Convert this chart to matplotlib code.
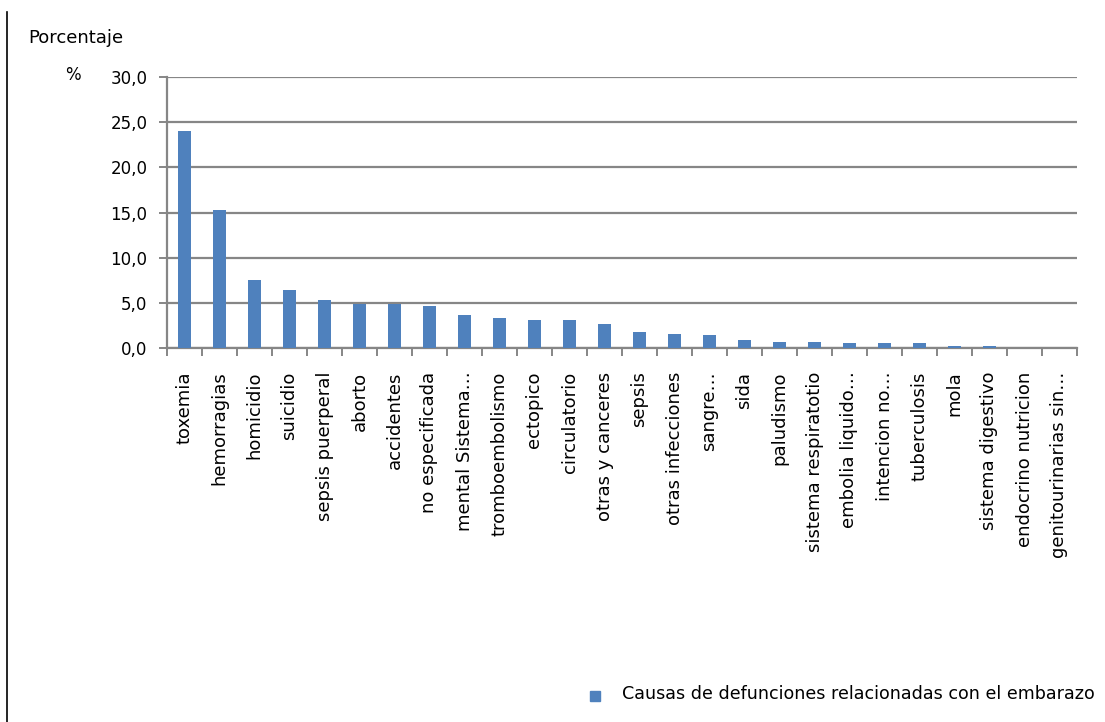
import matplotlib
matplotlib.use("Agg")
import matplotlib.pyplot as plt
from matplotlib.lines import Line2D
from matplotlib.patches import Rectangle
from matplotlib.ticker import FuncFormatter, FixedLocator
import numpy as np

categories = ["toxemia", "hemorragias", "homicidio", "suicidio", "sepsis puerperal",
              "aborto", "accidentes", "no especificada", "mental Sistema…",
              "tromboembolismo", "ectopico", "circulatorio", "otras y canceres",
              "sepsis", "otras infecciones", "sangre…", "sida", "paludismo",
              "sistema respiratotio", "embolia liquido…", "intencion no…",
              "tuberculosis", "mola", "sistema digestivo", "endocrino nutricion",
              "genitourinarias sin…"]
values = [24.0, 15.3, 7.5, 6.4, 5.3, 4.9, 4.9, 4.6, 3.6, 3.3, 3.1, 3.1, 2.7,
          1.8, 1.6, 1.4, 0.9, 0.7, 0.7, 0.5, 0.5, 0.5, 0.2, 0.2, 0.0, 0.0]
yticks = [0, 5, 10, 15, 20, 25, 30]
series_name = "Causas de defunciones relacionadas con el embarazo"

bar_color = "#4F81BD"
grid_color = "#868686"
font = "DejaVu Sans"

fig = plt.figure(figsize=(11.05, 7.22), dpi=100)
ax = fig.add_axes([167/1105, 1-348/722, (1077-167)/1105, (348-77)/722])

x = np.arange(len(categories))
ax.bar(x, values, width=0.38, color=bar_color, zorder=3)
ax.set_xlim(-0.5, len(categories)-0.5)
ax.set_ylim(0, 30)
ax.set_yticks(yticks)
ax.yaxis.set_major_formatter(FuncFormatter(lambda v, p: f"{v:.1f}".replace(".", ",")))
ax.grid(axis="y", color=grid_color, linewidth=1.6, zorder=0)
for s in ["top", "right"]:
    ax.spines[s].set_visible(False)
for s in ["left", "bottom"]:
    ax.spines[s].set_color(grid_color)
    ax.spines[s].set_linewidth(1.6)

# x ticks at category boundaries
ax.xaxis.set_major_locator(FixedLocator(np.arange(-0.5, len(categories), 1.0)))
ax.set_xticklabels([])
ax.tick_params(axis="x", which="major", length=6, color=grid_color, width=1.4)
ax.xaxis.set_minor_locator(FixedLocator(x))
ax.set_xticklabels(categories, minor=True, rotation=90, fontsize=13,
                   family=font, va="top", ha="center")
ax.tick_params(axis="x", which="minor", length=0, pad=17)
ax.tick_params(axis="y", length=6, color=grid_color, width=1.4, labelsize=12, pad=8)
for lbl in ax.get_yticklabels():
    lbl.set_family(font)

fig.text(28/1105, 1-38/722, "Porcentaje", fontsize=13, family=font, va="center", ha="left")
fig.text(65/1105, 1-75/722, "%", fontsize=12, family=font, va="center", ha="left")

# legend
fig.add_artist(Rectangle((590/1105, 1-701/722), 10/1105, 10/722,
                         transform=fig.transFigure, color=bar_color))
fig.text(622/1105, 1-694/722, series_name, fontsize=12.6, family=font,
         va="center", ha="left")

# left border line
fig.add_artist(Line2D([7/1105, 7/1105], [0, 1-12/722], transform=fig.transFigure,
                      color="black", linewidth=1.2))

fig.savefig("out.png", dpi=100)
